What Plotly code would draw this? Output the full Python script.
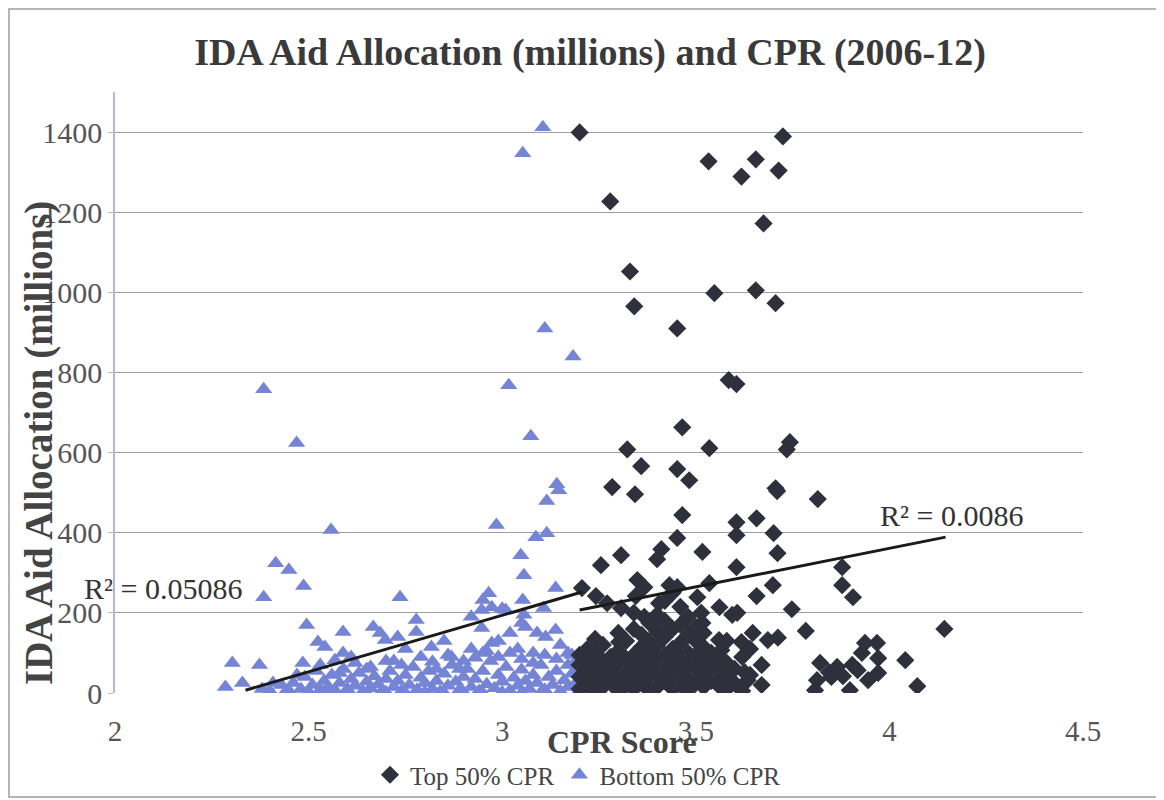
import plotly.graph_objects as go

# ---------------- data ----------------
# Top 50% CPR (dark diamonds): (CPR score, IDA allocation in millions)
top_upper = [(3.20, 1399), (3.725, 1389), (3.533, 1327), (3.655, 1332), (3.618, 1289),
             (3.714, 1304), (3.279, 1227), (3.675, 1172), (3.330, 1052), (3.341, 965),
             (3.548, 998), (3.655, 1005), (3.706, 973), (3.452, 910), (3.585, 781),
             (3.605, 771), (3.465, 663), (3.323, 608), (3.535, 611), (3.743, 626), (3.735, 608)]
top_mid = [(3.359, 566), (3.452, 559), (3.483, 531), (3.284, 514), (3.343, 496), (3.706, 511),
           (3.710, 504), (3.815, 484), (3.465, 444), (3.605, 426), (3.657, 436), (3.605, 394),
           (3.701, 399), (3.452, 387), (3.711, 349), (3.411, 359), (3.400, 334), (3.307, 344),
           (3.517, 352), (3.255, 319), (3.605, 314), (3.878, 314), (3.878, 269), (3.906, 239),
           (3.699, 269), (3.657, 242), (3.206, 262), (3.349, 282), (3.367, 264), (3.242, 242),
           (3.271, 224), (3.345, 242), (3.432, 269), (3.452, 264), (3.535, 274), (3.405, 224),
           (3.504, 239), (3.561, 214), (3.594, 195), (3.607, 200), (3.748, 209), (3.367, 190),
           (3.307, 212), (3.514, 200), (3.517, 175), (3.784, 155), (4.142, 160), (3.647, 150),
           (3.686, 132), (3.712, 138), (3.618, 127), (3.240, 135), (3.302, 127), (3.560, 132),
           (3.566, 107), (3.968, 125), (3.937, 125), (3.971, 87), (3.929, 100), (4.041, 82),
           (3.821, 75), (3.865, 65), (3.904, 70), (3.918, 57), (3.971, 50), (3.945, 32),
           (3.813, 32), (3.808, 7), (3.898, 7), (4.072, 17), (3.844, 52), (3.634, 32),
           (3.626, 52), (3.582, 65), (3.561, 32), (3.566, 12), (3.850, 40), (3.880, 42)]
top_cluster = [(3.20, 10), (3.20, 40), (3.20, 70), (3.20, 95),
               (3.22, 20), (3.22, 55), (3.22, 85), (3.22, 110),
               (3.24, 5), (3.24, 35), (3.24, 65), (3.24, 100),
               (3.26, 15), (3.26, 45), (3.26, 80), (3.26, 120),
               (3.28, 25), (3.28, 60), (3.28, 90),
               (3.30, 5), (3.30, 40), (3.30, 75), (3.30, 105), (3.30, 150),
               (3.32, 20), (3.32, 50), (3.32, 85), (3.32, 130),
               (3.34, 10), (3.34, 35), (3.34, 65), (3.34, 95), (3.34, 160), (3.34, 200),
               (3.36, 25), (3.36, 55), (3.36, 80), (3.36, 115), (3.36, 145),
               (3.38, 5), (3.38, 40), (3.38, 70), (3.38, 100), (3.38, 130), (3.38, 175),
               (3.40, 15), (3.40, 50), (3.40, 85), (3.40, 120), (3.40, 155), (3.40, 195),
               (3.42, 30), (3.42, 60), (3.42, 95), (3.42, 140), (3.42, 180), (3.42, 230),
               (3.44, 10), (3.44, 45), (3.44, 75), (3.44, 110), (3.44, 160), (3.44, 250),
               (3.46, 20), (3.46, 55), (3.46, 90), (3.46, 125), (3.46, 170), (3.46, 215),
               (3.48, 5), (3.48, 35), (3.48, 70), (3.48, 100), (3.48, 145), (3.48, 190),
               (3.50, 25), (3.50, 60), (3.50, 95), (3.50, 130), (3.50, 165),
               (3.52, 15), (3.52, 45), (3.52, 80), (3.52, 115), (3.52, 150),
               (3.54, 30), (3.54, 65), (3.54, 100),
               (3.56, 20), (3.56, 55), (3.56, 85),
               (3.58, 10), (3.58, 40), (3.58, 75), (3.58, 130),
               (3.60, 25), (3.60, 60), (3.62, 5), (3.62, 90),
               (3.64, 45), (3.64, 110), (3.67, 20), (3.67, 70)]

# Bottom 50% CPR (light-blue triangles)
bottom_upper = [(3.105, 1412), (3.053, 1347), (3.110, 910), (3.183, 840), (3.017, 768),
                (3.074, 641), (3.141, 521), (3.146, 506), (3.115, 479), (3.115, 399),
                (3.087, 389), (2.985, 419), (2.384, 758), (2.469, 624), (2.558, 407),
                (2.415, 324), (2.449, 307), (2.487, 267), (2.384, 239), (2.736, 239),
                (3.048, 344), (3.056, 294), (3.138, 262), (2.965, 249), (2.950, 232), (3.053, 232)]
bottom_mid = [(2.495, 170), (2.589, 152), (2.667, 165), (2.778, 182), (2.778, 152), (2.524, 127),
              (2.542, 115), (2.685, 150), (2.698, 132), (2.947, 207), (2.973, 214), (2.947, 162),
              (3.009, 207), (3.056, 195), (3.060, 165), (3.107, 212), (3.138, 157), (3.112, 140),
              (2.303, 75), (2.373, 70), (2.285, 15), (2.329, 25), (2.408, 25), (2.485, 75),
              (2.817, 115), (2.869, 90), (2.973, 125), (2.589, 100), (2.610, 90), (2.568, 82),
              (2.650, 60), (2.730, 140), (2.750, 110), (2.720, 80), (2.850, 130), (2.920, 110),
              (2.950, 100), (2.990, 130), (3.020, 150), (3.040, 110), (3.080, 100), (3.150, 120),
              (3.180, 95), (3.170, 70), (2.900, 80), (2.830, 60), (2.920, 190), (3.000, 210),
              (3.050, 175), (3.090, 150), (2.380, 10), (2.400, 5), (2.430, 20), (2.440, 3)]
bottom_band = [(2.45, 5), (2.46, 25), (2.48, 10), (2.49, 40), (2.50, 3), (2.51, 20), (2.52, 55),
               (2.53, 8), (2.54, 30), (2.55, 15), (2.56, 45), (2.57, 5), (2.58, 25), (2.59, 60),
               (2.60, 10), (2.61, 35), (2.62, 18), (2.63, 50), (2.64, 4), (2.65, 28), (2.66, 12),
               (2.67, 42), (2.68, 22), (2.69, 6), (2.70, 35), (2.71, 55), (2.72, 15), (2.73, 30),
               (2.74, 5), (2.75, 45), (2.76, 20), (2.77, 65), (2.78, 8), (2.79, 38), (2.80, 25),
               (2.81, 55), (2.82, 10), (2.83, 30), (2.84, 4), (2.85, 48), (2.86, 18), (2.87, 70),
               (2.88, 28), (2.89, 8), (2.90, 40), (2.91, 60), (2.92, 15), (2.93, 35), (2.94, 5),
               (2.95, 55), (2.96, 22), (2.97, 80), (2.98, 12), (2.99, 45), (3.00, 28), (3.01, 65),
               (3.02, 6), (3.03, 38), (3.04, 18), (3.05, 58), (3.06, 30), (3.07, 10), (3.08, 45),
               (3.09, 25), (3.10, 70), (3.11, 8), (3.12, 40), (3.13, 20), (3.14, 55), (3.15, 5),
               (3.16, 32), (3.17, 15), (3.18, 48), (3.19, 25), (3.20, 60), (3.20, 8),
               (2.47, 45), (2.53, 70), (2.58, 50), (2.62, 75), (2.66, 65), (2.70, 80), (2.74, 70),
               (2.79, 90), (2.82, 78), (2.86, 95), (2.89, 60), (2.93, 88), (2.96, 105), (2.99, 90),
               (3.02, 100), (3.05, 85), (3.08, 75), (3.11, 95), (3.14, 85), (3.17, 100), (3.19, 80),
               (2.55, 0), (2.65, 0), (2.75, 0), (2.85, 0), (2.95, 0), (3.05, 0), (3.15, 0),
               (2.60, 2), (2.70, 2), (2.80, 2), (2.90, 2), (3.00, 2), (3.10, 2)]

# linear trend lines (end points) and their R² labels
trend_bottom_x = [2.337, 3.206]
trend_bottom_y = [7, 252]
trend_top_x = [3.20, 4.145]
trend_top_y = [207, 389]
r2_bottom = "R² = 0.05086"
r2_top = "R² = 0.0086"

x_ticks = [2, 2.5, 3, 3.5, 4, 4.5]
x_tick_labels = ["2", "2.5", "3", "3.5", "4", "4.5"]
y_ticks = [0, 200, 400, 600, 800, 1000, 1200, 1400]

top_pts = top_upper + top_mid + top_cluster
bottom_pts = bottom_upper + bottom_mid + bottom_band
top_cpr = [p[0] for p in top_pts]
top_aid = [p[1] for p in top_pts]
bottom_cpr = [p[0] for p in bottom_pts]
bottom_aid = [p[1] for p in bottom_pts]

# ---------------- figure ----------------
SERIF = "Liberation Serif, Times New Roman, serif"
DARK = "#2e303c"
BLUE = "#7584d4"

fig = go.Figure()
fig.add_trace(go.Scatter(x=bottom_cpr, y=bottom_aid, mode="markers", name="Bottom 50% CPR",
                         legendrank=2,
                         marker=dict(symbol="triangle-up", size=15, color=BLUE, line=dict(width=0))))
fig.add_trace(go.Scatter(x=top_cpr, y=top_aid, mode="markers", name="Top 50% CPR",
                         legendrank=1,
                         marker=dict(symbol="diamond", size=14, color=DARK, line=dict(width=0))))
fig.add_trace(go.Scatter(x=trend_bottom_x, y=trend_bottom_y, mode="lines", showlegend=False,
                         line=dict(color="#1a1a1a", width=3)))
fig.add_trace(go.Scatter(x=trend_top_x, y=trend_top_y, mode="lines", showlegend=False,
                         line=dict(color="#1a1a1a", width=3)))

# the page body adds an 8px offset; the figure is sized / placed to compensate
OFF = 8
W, H = 1156, 792
L, R, T, B = 107, 81, 84, 107
pw, ph = W - L - R, H - T - B


def px_x(page_x):
    return (page_x - OFF - L) / pw


def px_y(page_y):
    return (H - B - (page_y - OFF)) / ph


fig.update_layout(
    width=W, height=H,
    margin=dict(l=L, r=R, t=T, b=B, autoexpand=False),
    paper_bgcolor="white", plot_bgcolor="white",
    font=dict(family=SERIF, color="#444444"),
    title=dict(text="<b>IDA Aid Allocation (millions) and CPR (2006-12)</b>",
               xref="container", yref="container",
               x=(590 - OFF) / W, y=1 - (52 - OFF) / H, xanchor="center", yanchor="middle",
               font=dict(family=SERIF, size=38, color="#3a3a3a")),
    xaxis=dict(range=[2, 4.5], tickvals=x_ticks, ticktext=x_tick_labels,
               showgrid=False, zeroline=False, showline=False,
               tickfont=dict(size=29, color="#555555"), ticks="", ticklabelstandoff=18),
    yaxis=dict(range=[0, 1500], tickvals=y_ticks, showgrid=True, gridcolor="#9c9ca4",
               gridwidth=1, zeroline=False, showline=True, linecolor="#b8b8cc", linewidth=1.5,
               ticks="outside", ticklen=5, tickcolor="#b8b8cc",
               tickfont=dict(size=30, color="#555555")),
    legend=dict(orientation="h", xref="container", yref="container",
                x=(578 - OFF) / W, y=1 - (775 - OFF) / H, xanchor="center", yanchor="middle",
                font=dict(size=25, color="#444444"), itemwidth=30, bgcolor="rgba(0,0,0,0)"),
    showlegend=True,
)

fig.add_annotation(text="<b>CPR Score</b>", xref="paper", yref="paper",
                   x=px_x(622), y=px_y(742), xanchor="center", yanchor="middle", showarrow=False,
                   font=dict(family=SERIF, size=32, color="#444444"))
fig.add_annotation(text="<b>IDA Aid Allocation (millions)</b>", xref="paper", yref="paper",
                   x=px_x(39), y=px_y(443), xanchor="center", yanchor="middle",
                   textangle=-90, showarrow=False,
                   font=dict(family=SERIF, size=39, color="#444444"))
fig.add_annotation(text=r2_bottom, xref="paper", yref="paper", x=px_x(82), y=px_y(588),
                   xanchor="left", yanchor="middle",
                   showarrow=False, font=dict(family=SERIF, size=30, color="#333333"))
fig.add_annotation(text=r2_top, xref="x", yref="y", x=3.970, y=444, xanchor="left",
                   yanchor="middle",
                   showarrow=False, font=dict(family=SERIF, size=30, color="#333333"))

# outer chart frame
fig.add_shape(type="rect", xref="paper", yref="paper",
              x0=px_x(9), x1=px_x(1160), y0=px_y(797), y1=px_y(9),
              line=dict(color="#b4b4bc", width=2), layer="below")

fig.write_html("out.html")
